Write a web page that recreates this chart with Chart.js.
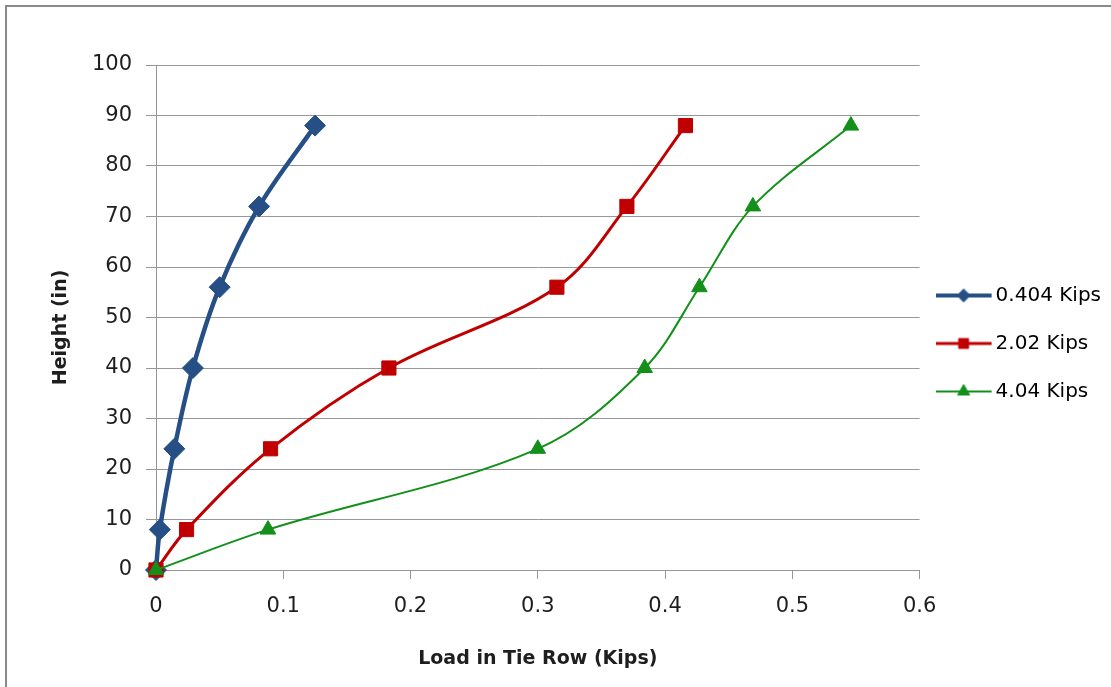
<!DOCTYPE html>
<html>
<head>
<meta charset="utf-8">
<script src="https://cdn.jsdelivr.net/npm/chart.js@4.4.0/dist/chart.umd.min.js"></script>
<style>
html, body { margin: 0; padding: 0; background: #fff; }
#wrap { position: relative; width: 1111px; height: 687px; overflow: hidden; }
#frame { position: absolute; left: 5px; top: 5px; width: 1200px; height: 800px;
         border-left: 2px solid #8a8a8a; border-top: 2px solid #8a8a8a; pointer-events: none; }
</style>
</head>
<body>
<div id="wrap">
  <canvas id="chart" width="1111" height="687"></canvas>
  <div id="frame"></div>
</div>
<script>
// heights of the tie rows (in)
const heights = [0, 8, 24, 40, 56, 72, 88];
// load in tie row (kips) per applied load
const load0404 = [0, 0.003, 0.0144, 0.029, 0.050, 0.081, 0.125];
const load202 = [0, 0.024, 0.090, 0.183, 0.315, 0.370, 0.416];
const load404 = [0, 0.088, 0.300, 0.384, 0.427, 0.469, 0.546];
const seriesNames = ['0.404 Kips', '2.02 Kips', '4.04 Kips'];

const xTitle = 'Load in Tie Row (Kips)';
// trailing spaces nudge the rotated title down a little
const yTitle = 'Height (in)   ';

const blue = '#264f86';
const red = '#c00000';
const green = '#12901a';
const gridColor = '#979797';
const textColor = '#1e1e1e';

function points(loads){
    return heights.map((h, i) => ({x: loads[i], y: h}));
}

// small line+marker swatch for the legend
function legendIcon(color, lineWidth, style, radius){
    let c = document.createElement('canvas');
    c.width = 62;
    c.height = 22;
    let ctx = c.getContext('2d');
    ctx.strokeStyle = color;
    ctx.lineWidth = lineWidth;
    ctx.beginPath();
    ctx.moveTo(0, 11);
    ctx.lineTo(56, 11);
    ctx.stroke();
    ctx.fillStyle = color;
    ctx.lineWidth = 1;
    Chart.helpers.drawPoint(ctx, {pointStyle: style, radius: radius, rotation: 0, borderWidth: 1}, 28, 11);
    return c;
}

const icons = [
    legendIcon(blue, 4, 'rectRot', 6.5),
    legendIcon(red, 3, 'rect', 7),
    legendIcon(green, 2, 'triangle', 7)
];

const datasets = [
    {
        label: seriesNames[0], data: points(load0404),
        borderColor: blue, backgroundColor: blue, borderWidth: 4.5,
        pointStyle: 'rectRot', pointRadius: 10.5, pointBorderWidth: 1, order: 2, clip: false
    },
    {
        label: seriesNames[1], data: points(load202),
        borderColor: red, backgroundColor: red, borderWidth: 3,
        pointStyle: 'rect', pointRadius: 10, pointBorderWidth: 1, order: 1, clip: false
    },
    {
        label: seriesNames[2], data: points(load404),
        borderColor: green, backgroundColor: green, borderWidth: 2,
        pointStyle: 'triangle', pointRadius: 9, pointBorderWidth: 1, order: 0, clip: false
    }
];

const tickFont = {family: 'DejaVu Sans', size: 21};
const titleFont = {family: 'DejaVu Sans', size: 19, weight: 'bold'};

new Chart(document.getElementById('chart'), {
    type: 'scatter',
    data: {datasets: datasets},
    options: {
        responsive: false,
        animation: false,
        devicePixelRatio: 1,
        showLine: true,
        tension: 0.35,
        layout: {padding: {top: 0, right: 0, bottom: 0, left: 0}},
        plugins: {
            tooltip: {enabled: false},
            title: {
                display: true, text: '', fullSize: false,
                font: {size: 10}, padding: {top: 0, bottom: 53}
            },
            legend: {
                position: 'right',
                labels: {
                    usePointStyle: true,
                    pointStyleWidth: 38,
                    padding: 28,
                    color: textColor,
                    font: {family: 'DejaVu Sans', size: 20},
                    generateLabels: (chart) => chart.data.datasets.map((ds, i) => ({
                        text: ds.label,
                        pointStyle: icons[i],
                        fillStyle: ds.borderColor,
                        strokeStyle: ds.borderColor,
                        lineWidth: 0,
                        hidden: false,
                        datasetIndex: i
                    }))
                }
            }
        },
        scales: {
            x: {
                type: 'linear',
                min: 0,
                max: 0.6,
                ticks: {stepSize: 0.1, font: tickFont, color: textColor, padding: 15},
                grid: {drawOnChartArea: false, tickLength: 9, color: gridColor},
                border: {color: gridColor},
                title: {display: true, text: xTitle, font: titleFont, color: textColor, padding: {top: 0, bottom: 17}},
                afterFit: (s) => { s.height = 117; }
            },
            y: {
                min: 0,
                max: 100,
                ticks: {stepSize: 10, font: tickFont, color: textColor, padding: 14},
                grid: {color: gridColor, tickLength: 10},
                border: {color: gridColor},
                title: {display: true, text: yTitle, font: titleFont, color: textColor, padding: {top: 50, bottom: 0}},
                afterFit: (s) => { s.width = 156; }
            }
        }
    }
});
</script>
</body>
</html>
